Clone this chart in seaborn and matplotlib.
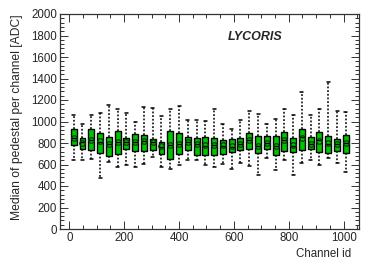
import numpy as np
import pandas as pd
import matplotlib
matplotlib.use("Agg")
import matplotlib.pyplot as plt
from matplotlib.ticker import MultipleLocator
import seaborn as sns

# one box per group of 32 channels
channels = [16, 48, 80, 112, 144, 176, 208, 240, 272, 304, 336, 368, 400, 432, 464, 496,
            528, 560, 592, 624, 656, 688, 720, 752, 784, 816, 848, 880, 912, 944, 976, 1008]
whisker_low = [639, 645, 654, 475, 626, 580, 592, 580, 605, 670, 577, 561, 595, 639, 639, 595,
               574, 605, 561, 614, 583, 499, 657, 552, 645, 499, 617, 639, 592, 660, 614, 527]
q1 = [778, 744, 732, 707, 676, 701, 747, 729, 729, 732, 701, 654, 701, 735, 688, 692,
      692, 698, 716, 732, 741, 707, 744, 692, 726, 716, 732, 744, 716, 707, 729, 710]
median = [846, 806, 831, 812, 794, 806, 806, 806, 819, 806, 763, 781, 788, 806, 788, 775,
          781, 775, 766, 794, 831, 769, 800, 769, 831, 775, 856, 791, 825, 794, 794, 797]
q3 = [933, 850, 933, 893, 856, 908, 846, 887, 874, 837, 806, 912, 893, 853, 846, 859,
      846, 828, 837, 850, 890, 862, 868, 862, 902, 846, 930, 859, 902, 862, 837, 878]
whisker_high = [1057, 977, 1057, 1079, 1150, 1119, 1076, 992, 1135, 1126, 1051, 1113, 1141, 1014, 1014, 1008,
                1113, 974, 927, 1011, 1095, 1067, 980, 1020, 1119, 1060, 1270, 1064, 1113, 1365, 1101, 1092]
means = [850, 800, 825, 815, 790, 805, 805, 805, 815, 805, 770, 785, 795, 805, 790, 780,
         785, 780, 775, 795, 825, 775, 800, 775, 825, 780, 850, 795, 820, 800, 795, 800]

# five points per channel give exactly these quartiles and whisker ends
rows = []
for i, ch in enumerate(channels):
    for v in (whisker_low[i], q1[i], median[i], q3[i], whisker_high[i]):
        rows.append({"channel": ch, "pedestal": v})
df = pd.DataFrame(rows)

sns.set_style("ticks")
plt.rcParams["font.family"] = ["Liberation Sans", "DejaVu Sans"]

fig = plt.figure(figsize=(3.78, 2.73), dpi=100)
ax = fig.add_axes([60 / 378, 1 - 229 / 273, 298.7 / 378, 215 / 273])

green = "#00c400"
sns.boxplot(data=df, x="channel", y="pedestal", native_scale=True, ax=ax,
            color=green, saturation=1, width=0.68, whis=np.inf, linewidth=1.0,
            linecolor="black",
            whiskerprops={"linestyle": (0, (1.2, 1.2)), "linewidth": 1.1},
            capprops={"linewidth": 1.1},
            medianprops={"linewidth": 1.0, "color": "black"})
ax.plot(channels, means, "o", ms=4, mfc="none", mec="#0a3a0a", mew=0.9, zorder=5)

ax.set_xlim(-34, 1055)
ax.set_ylim(0, 2000)
ax.xaxis.set_major_locator(MultipleLocator(200))
ax.xaxis.set_minor_locator(MultipleLocator(50))
ax.yaxis.set_major_locator(MultipleLocator(200))
ax.yaxis.set_minor_locator(MultipleLocator(40))
ax.tick_params(which="both", direction="in", top=True, right=True, labelsize=8.3,
               pad=2, color="#333333", width=0.7)
ax.tick_params(which="major", length=5.5)
ax.tick_params(which="minor", length=2.8)
for s in ax.spines.values():
    s.set_visible(True)
    s.set_color("#333333")
    s.set_linewidth(0.9)
ax.set_xlabel("")
ax.set_ylabel("")

ax.text(0.653, 0.894, "LYCORIS", transform=ax.transAxes, ha="center", va="center",
        fontsize=9, fontweight="bold", fontstyle="italic")
fig.text(351.7 / 378, 1 - 254 / 273, "Channel id", ha="right", va="center", fontsize=8.3)
fig.text(17 / 378, 1 - 14 / 273, "Median of pedestal per channel [ADC]", rotation=90,
         ha="center", va="top", fontsize=8.7)

fig.savefig("out.png", dpi=100)
plt.close(fig)
